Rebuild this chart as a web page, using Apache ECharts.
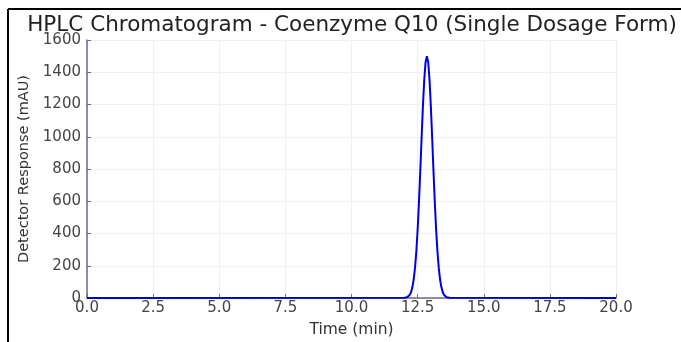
<!DOCTYPE html>
<html>
<head>
<meta charset="utf-8">
<script src="https://cdn.jsdelivr.net/npm/echarts@6/dist/echarts.min.js"></script>
<style>
	html, body { margin: 0; padding: 0; background: #fff; }
	#main { width: 681px; height: 342px; }
</style>
</head>
<body>
<div id="main"></div>
<script>
// retention times (min)
var times = [0, 12.0, 12.05, 12.1, 12.15, 12.2, 12.25, 12.3, 12.35, 12.4, 12.45, 12.5, 12.55, 12.6, 12.65, 12.7, 12.75, 12.8, 12.85,
	12.9, 12.95, 13.0, 13.05, 13.1, 13.15, 13.2, 13.25, 13.3, 13.35, 13.4, 13.45, 13.5, 13.55, 13.6, 13.65, 13.7, 20];
// detector response (mAU)
var response = [0, 1, 2, 4, 9, 19, 36, 66, 113, 185, 287, 423, 592, 786, 992, 1189, 1353, 1462, 1500,
	1462, 1353, 1189, 992, 786, 592, 423, 287, 185, 113, 66, 36, 19, 9, 4, 2, 1, 0];

var xTicks = [0, 2.5, 5, 7.5, 10, 12.5, 15, 17.5, 20];
var yTicks = [0, 200, 400, 600, 800, 1000, 1200, 1400, 1600];

var _chart = echarts.init(document.getElementById('main'), null, { renderer: 'canvas' });

var points = [];
for (let i = 0; i < times.length; i++) {
	points.push([times[i], response[i]]);
}

var fontFamily = 'DejaVu Sans';
var spineColor = '#6b6b8f';

var option = {
	backgroundColor: '#fff',
	animation: false,
	title: {
		text: 'HPLC Chromatogram - Coenzyme Q10 (Single Dosage Form)',
		left: 347,
		textAlign: 'center',
		top: 9,
		textStyle: {
			fontFamily: fontFamily,
			fontSize: 21.5,
			fontWeight: 'normal',
			color: '#222'
		}
	},
	graphic: [
		{ type: 'line', shape: { x1: 8, y1: 9, x2: 681, y2: 9 }, style: { stroke: '#000', lineWidth: 2 } },
		{ type: 'line', shape: { x1: 8, y1: 9, x2: 8, y2: 342 }, style: { stroke: '#000', lineWidth: 2 } }
	],
	grid: {
		left: 87,
		right: 65,
		top: 40,
		bottom: 44,
		outerBoundsMode: 'none'
	},
	xAxis: {
		type: 'value',
		min: xTicks[0],
		max: xTicks[xTicks.length - 1],
		interval: 2.5,
		name: 'Time (min)',
		nameLocation: 'middle',
		nameGap: 24,
		nameTextStyle: { fontFamily: fontFamily, fontSize: 15.5, color: '#333' },
		axisLine: { lineStyle: { color: spineColor, width: 1.5 } },
		axisTick: { inside: true, length: 4, lineStyle: { color: spineColor } },
		axisLabel: {
			fontFamily: fontFamily,
			fontSize: 15,
			color: '#444',
			margin: 3,
			formatter: function (v) { return v.toFixed(1); }
		},
		splitLine: { show: true, lineStyle: { color: '#f0f0f0', width: 1 } }
	},
	yAxis: {
		type: 'value',
		min: yTicks[0],
		max: yTicks[yTicks.length - 1],
		interval: 200,
		name: 'Detector Response (mAU)',
		nameLocation: 'middle',
		nameGap: 53,
		nameTextStyle: { fontFamily: fontFamily, fontSize: 14.5, color: '#333' },
		axisLine: { show: true, lineStyle: { color: spineColor, width: 1.5 } },
		axisTick: { show: true, inside: true, length: 4, lineStyle: { color: spineColor } },
		axisLabel: {
			fontFamily: fontFamily,
			fontSize: 15,
			color: '#444',
			margin: 6,
			formatter: function (v) { return String(v); }
		},
		splitLine: { show: true, lineStyle: { color: '#f0f0f0', width: 1 } }
	},
	series: [
		{
			type: 'line',
			data: points,
			showSymbol: false,
			smooth: false,
			lineStyle: { color: '#0000e6', width: 2 },
			itemStyle: { color: '#0000e6' }
		}
	]
};
_chart.setOption(option);
</script>
</body>
</html>
